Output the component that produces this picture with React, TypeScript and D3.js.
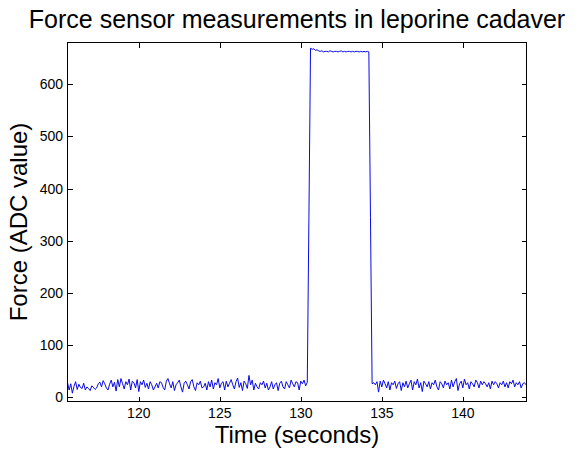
import React from "react";
import * as d3 from "d3";

// sampled at 10 Hz
const sampleStart = 115.6;
const samplePeriod = 0.1;

const forceBefore = [
  28, 14, 26, 8, 21, 30, 15, 25, 19, 17, 27, 14, 20, 17, 13, 22, 19, 15, 18, 26,
  29, 20, 32, 26, 18, 14, 25, 33, 20, 29, 12, 34, 20, 36, 26, 16, 30, 24, 35, 14,
  31, 28, 18, 34, 11, 30, 24, 33, 19, 27, 16, 30, 24, 14, 20, 27, 18, 30, 28, 19,
  14, 31, 36, 26, 18, 30, 13, 24, 28, 33, 20, 10, 27, 31, 24, 16, 30, 34, 20, 13,
  28, 24, 31, 18, 20, 27, 14, 30, 20, 33, 16, 28, 24, 36, 18, 27, 30, 14, 31, 20,
  27, 34, 24, 16, 30, 37, 19, 28, 13, 31, 26, 17, 42, 24, 33, 14, 27, 20, 16, 28,
  24, 31, 18, 27, 14, 20, 30, 16, 24, 28, 13, 27, 31, 20, 16, 30, 24, 18, 33, 26,
  20, 30, 28, 14, 31, 26, 33, 22, 29,
];

const forcePulse = [
  345, 669, 667, 668, 665, 666, 664, 663, 664, 662, 663, 663, 662, 664, 663, 662,
  663, 663, 662, 663, 664, 662, 663, 662, 663, 663, 662, 663, 662, 663, 663, 662,
  663, 662, 663, 662, 663, 662, 345,
];

const forceAfter = [
  26, 28, 24, 30, 10, 31, 20, 33, 26, 18, 30, 14, 28, 24, 31, 17, 26, 30, 13, 28,
  20, 31, 18, 26, 33, 14, 30, 24, 35, 18, 28, 11, 31, 26, 20, 30, 16, 28, 24, 33,
  20, 14, 30, 26, 18, 31, 24, 28, 16, 33, 20, 30, 36, 13, 26, 31, 18, 35, 24, 28,
  16, 30, 26, 20, 33, 28, 18, 31, 24, 30, 26, 20, 28, 16, 31, 24, 30, 26, 18, 28,
  24, 31, 20, 28, 18, 30, 26, 33, 20, 28, 24, 30, 18, 26, 28, 24,
];

const xTicks = [120, 125, 130, 135, 140];
const yTicks = [0, 100, 200, 300, 400, 500, 600];
const xDomain: [number, number] = [115.6, 143.93];
const yDomain: [number, number] = [-8, 680];

const W = 582;
const H = 449;
const left = 67.5, right = 526.5, top = 42.5, bottom = 401.5;
const tickLen = 5;
const font = "'Liberation Sans', Arial, sans-serif";

export default function App() {
  const x = d3.scaleLinear().domain(xDomain).range([left, right]);
  const y = d3.scaleLinear().domain(yDomain).range([bottom, top]);

  const values = [...forceBefore, ...forcePulse, ...forceAfter];
  const points: [number, number][] = values.map((v, i) => [sampleStart + i * samplePeriod, v]);

  const line = d3
    .line<[number, number]>()
    .x((d) => x(d[0]))
    .y((d) => y(d[1]));

  const cx = (left + right) / 2;
  const cy = (top + bottom) / 2;

  return (
    <svg
      width={W}
      height={H}
      style={{ position: "absolute", left: 0, top: 0, background: "#fff" }}
      fontFamily={font}
    >
      <rect width={W} height={H} fill="#fff" />
      <defs>
        <clipPath id="plot">
          <rect x={left} y={top} width={right - left} height={bottom - top} />
        </clipPath>
      </defs>
      <path d={line(points) ?? ""} fill="none" stroke="#0a0ae6" strokeWidth={1} clipPath="url(#plot)" />

      <g stroke="#000" strokeWidth={1} shapeRendering="crispEdges">
        <rect x={left} y={top} width={right - left} height={bottom - top} fill="none" />
        {xTicks.map((t) => (
          <g key={"x" + t}>
            <line x1={Math.round(x(t)) + 0.5} x2={Math.round(x(t)) + 0.5} y1={bottom} y2={bottom - tickLen} />
            <line x1={Math.round(x(t)) + 0.5} x2={Math.round(x(t)) + 0.5} y1={top} y2={top + tickLen} />
          </g>
        ))}
        {yTicks.map((t) => (
          <g key={"y" + t}>
            <line x1={left} x2={left + tickLen} y1={Math.round(y(t)) + 0.5} y2={Math.round(y(t)) + 0.5} />
            <line x1={right} x2={right - tickLen} y1={Math.round(y(t)) + 0.5} y2={Math.round(y(t)) + 0.5} />
          </g>
        ))}
      </g>

      <g fontSize={14} fill="#000">
        {xTicks.map((t) => (
          <text key={"xl" + t} x={x(t)} y={418} textAnchor="middle">
            {t}
          </text>
        ))}
        {yTicks.map((t) => (
          <text key={"yl" + t} x={63} y={y(t) + 5} textAnchor="end">
            {t}
          </text>
        ))}
      </g>

      <text x={cx} y={28} textAnchor="middle" fontSize={25} fill="#000">
        Force sensor measurements in leporine cadaver
      </text>
      <text x={cx} y={443} textAnchor="middle" fontSize={24} fill="#000">
        Time (seconds)
      </text>
      <text
        transform={`translate(27,${cy}) rotate(-90)`}
        textAnchor="middle"
        fontSize={24}
        fill="#000"
      >
        Force (ADC value)
      </text>
    </svg>
  );
}
